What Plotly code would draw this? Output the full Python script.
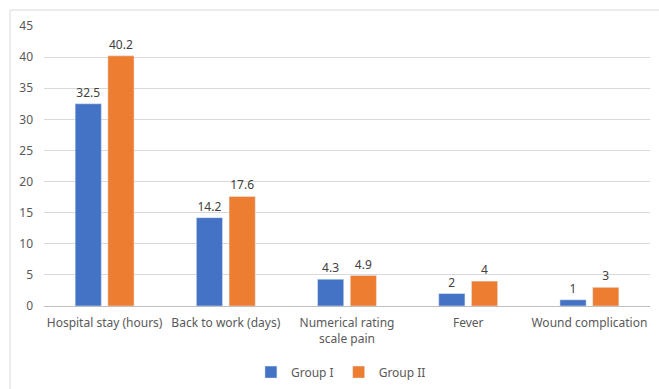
import plotly.graph_objects as go

categories = ["Hospital stay (hours)", "Back to work (days)", "Numerical rating<br>scale pain", "Fever", "Wound complication"]
group1 = [32.5, 14.2, 4.3, 2, 1]
group2 = [40.2, 17.6, 4.9, 4, 3]
y_ticks = [0, 5, 10, 15, 20, 25, 30, 35, 40, 45]

font = "Noto Sans, Arial, sans-serif"
fig = go.Figure()
fig.add_trace(go.Bar(name="Group I", x=categories, y=group1, marker_color="#4472C4",
                     text=[f"{v:g}" for v in group1], textposition="outside",
                     textfont=dict(size=12, color="#404040", family=font), cliponaxis=False))
fig.add_trace(go.Bar(name="Group II", x=categories, y=group2, marker_color="#ED7D31",
                     text=[f"{v:g}" for v in group2], textposition="outside",
                     textfont=dict(size=12, color="#404040", family=font), cliponaxis=False))

fig.update_layout(
    width=659, height=389,
    margin=dict(l=44, r=9, t=26, b=83, autoexpand=False),
    paper_bgcolor="white", plot_bgcolor="white",
    barmode="group", bargap=0.46, bargroupgap=0.2,
    font=dict(family=font, size=12, color="#595959"),
    showlegend=True,
    legend=dict(orientation="h", x=0.49, xanchor="center", y=-0.236, yanchor="middle",
                itemwidth=30, font=dict(size=12, color="#595959", family=font)),
    xaxis=dict(showline=False, ticks="", automargin=False, ticklabelstandoff=8,
               tickfont=dict(size=12, color="#595959", family=font)),
    yaxis=dict(range=[0, 45], tickvals=y_ticks, showgrid=True, gridcolor="#d9d9d9",
               zeroline=True, zerolinecolor="#bfbfbf", zerolinewidth=1, automargin=False,
               ticks="", ticklabelstandoff=10, tickfont=dict(size=12, color="#595959", family=font)),
    shapes=[dict(type="rect", xref="paper", yref="paper", x0=-0.0561, x1=1.03, y0=-0.35, y1=1.057,
                 line=dict(color="#d9d9d9", width=1), fillcolor="rgba(0,0,0,0)", layer="below")],
)
fig.write_html("out.html")
